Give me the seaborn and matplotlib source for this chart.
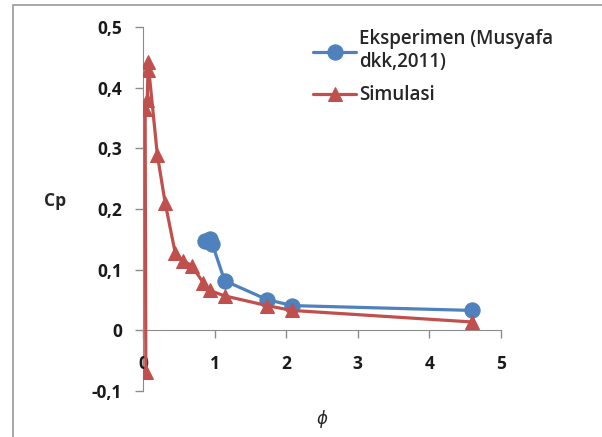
import numpy as np
import pandas as pd
import matplotlib
matplotlib.use("Agg")
import matplotlib.pyplot as plt
from matplotlib.patches import Rectangle
import seaborn as sns

# ---------------- data ----------------
exp_phi = [0.86, 0.93, 0.97, 1.14, 1.73, 2.08, 4.59]
exp_cp = [0.148, 0.150, 0.142, 0.082, 0.051, 0.041, 0.033]

sim_phi = [0.04, 0.03, 0.06, 0.07, 0.07, 0.20, 0.31, 0.45, 0.56, 0.68, 0.84, 0.93, 1.14, 1.73, 2.08, 4.59]
sim_cp = [-0.068, 0.365, 0.38, 0.43, 0.443, 0.29, 0.21, 0.128, 0.115, 0.107, 0.079, 0.066, 0.057, 0.041, 0.033, 0.014]

x_ticks = [0, 1, 2, 3, 4, 5]
x_labels = ["0", "1", "2", "3", "4", "5"]
y_ticks = [-0.1, 0, 0.1, 0.2, 0.3, 0.4, 0.5]
y_labels = ["-0,1", "0", "0,1", "0,2", "0,3", "0,4", "0,5"]

exp_name = "Eksperimen (Musyafa\ndkk,2011)"
sim_name = "Simulasi"

blue = "#4F81BD"
red = "#C0504D"

# ---------------- style ----------------
sns.set_style("white")
plt.rcParams["font.family"] = ["Open Sans", "DejaVu Sans"]

fig = plt.figure(figsize=(6.02, 4.37), dpi=100)
ax = fig.add_axes([0.2375, 0.105, 0.5947, 0.833])

# outer chart border
fig.patches.append(Rectangle((13 / 602, -0.01), 1.0, 1 - 5 / 437 + 0.01,
                             transform=fig.transFigure, fill=False,
                             edgecolor="#9a9a9a", linewidth=1.2))

exp_df = pd.DataFrame({"phi": exp_phi, "cp": exp_cp})
sim_df = pd.DataFrame({"phi": sim_phi, "cp": sim_cp})

sns.lineplot(data=exp_df, x="phi", y="cp", sort=False, estimator=None, ax=ax,
             color=blue, linewidth=2.3, marker="o", markersize=11,
             markeredgecolor=blue, label=exp_name)
sns.lineplot(data=sim_df, x="phi", y="cp", sort=False, estimator=None, ax=ax,
             color=red, linewidth=2.3, marker="^", markersize=9.5,
             markeredgecolor=red, label=sim_name)

ax.set_xlim(0, 5)
ax.set_ylim(-0.1, 0.5)
ax.set_xticks(x_ticks, x_labels)
ax.set_yticks(y_ticks, y_labels)

for s in ["top", "right"]:
    ax.spines[s].set_visible(False)
ax.spines["bottom"].set_position(("data", 0))
ax.spines["left"].set_color("#8c8c8c")
ax.spines["bottom"].set_color("#8c8c8c")
ax.spines["left"].set_zorder(0)
ax.spines["bottom"].set_zorder(0)

ax.tick_params(axis="x", direction="out", length=6, width=1, color="#8c8c8c",
               pad=12, labelsize=12.5, bottom=True)
ax.tick_params(axis="y", direction="out", length=6, width=1, color="#8c8c8c",
               pad=9, labelsize=12.5, left=True)
for lab in ax.get_xticklabels() + ax.get_yticklabels():
    lab.set_fontweight("bold")
    lab.set_color("#1a1a1a")

ax.set_xlabel("ϕ", fontsize=12, fontstyle="italic")
ax.xaxis.set_label_coords(0.5, -0.052)
ax.set_ylabel("Cp", fontsize=12.5, fontweight="bold", rotation=0)
ax.yaxis.set_label_coords(-0.246, 0.497)

leg = ax.legend(loc="upper left", bbox_to_anchor=(0.455, 1.015), frameon=False,
                fontsize=13.5, handlelength=2.3, handletextpad=0.15,
                labelspacing=0.7, borderaxespad=0)
for t in leg.get_texts():
    t.set_fontweight("semibold")

fig.savefig("out.png", dpi=100)
